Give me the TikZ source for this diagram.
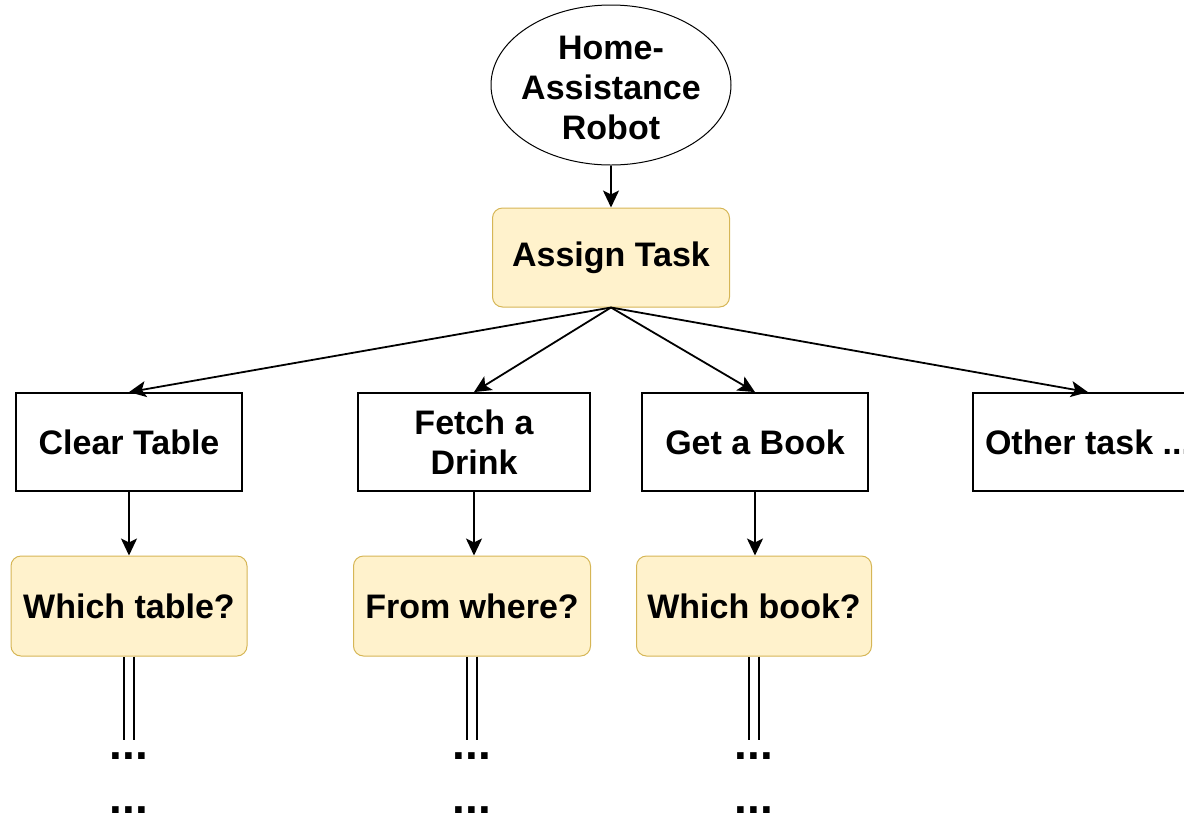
\documentclass[tikz,border=0pt]{standalone}
\usepackage{fontspec}
\setmainfont{Liberation Sans}
\usetikzlibrary{shapes.geometric,arrows.meta}
\definecolor{qfill}{HTML}{FFF2CC}
\definecolor{qborder}{HTML}{D6B656}

\begin{document}
\begin{tikzpicture}[x=1pt,y=-1pt,
    every node/.style={font=\fontsize{34}{40}\selectfont\bfseries, align=center},
    task/.style={draw, line width=1.8pt, minimum height=98pt},
    query/.style={draw=qborder, fill=qfill, rounded corners=10pt, line width=1pt, minimum height=100pt},
    arr/.style={-{Stealth[length=17pt,width=16pt,inset=4pt]}, line width=1.8pt},
    dbl/.style={double, double distance=8pt, line width=1.8pt, shorten >=12pt},
    more/.style={inner sep=0pt, anchor=base, font=\fontsize{46}{46}\selectfont\bfseries}]
    \useasboundingbox (0,0) rectangle (1184,815);
    \clip (0,0) rectangle (1184,815);
    \node[ellipse, draw, line width=1pt, minimum width=240pt, minimum height=160pt,
        label={[yshift=-3pt]center:{Home-\\Assistance\\Robot}}] (robot) at (611,85) {};
    \node[query, minimum width=237pt, minimum height=99pt] (assign) at (611,257.5) {Assign Task};
    \node[task, minimum width=226pt] (clear) at (129,442) {Clear Table};
    \node[task, minimum width=232pt] (fetch) at (474,442) {Fetch a\\Drink};
    \node[task, minimum width=226pt] (book) at (755,442) {Get a Book};
    \node[task, minimum width=230pt] (other) at (1088,442) {Other task ...};
    \node[query, minimum width=236pt] (wtable) at (129,606) {Which table?};
    \node[query, minimum width=237pt] (wwhere) at (472,606) {From where?};
    \node[query, minimum width=235pt] (wbook) at (754,606) {Which book?};
    \node[more] (tdots1) at (129,759) {...};
    \node[more] (tdots2) at (129,813) {...};
    \node[more] (wdots1) at (472,759) {...};
    \node[more] (wdots2) at (472,813) {...};
    \node[more] (bdots1) at (754,759) {...};
    \node[more] (bdots2) at (754,813) {...};
    \draw[arr] (robot) -- (assign);
    \draw[arr] (assign.south) -- (clear.north);
    \draw[arr] (assign.south) -- (fetch.north);
    \draw[arr] (assign.south) -- (book.north);
    \draw[arr] (assign.south) -- (other.north);
    \draw[arr] (clear) -- (clear |- wtable.north);
    \draw[arr] (fetch) -- (fetch |- wwhere.north);
    \draw[arr] (book) -- (book |- wbook.north);
    \draw[dbl] (wtable) -- (tdots1);
    \draw[dbl] (wwhere) -- (wdots1);
    \draw[dbl] (wbook) -- (bdots1);
\end{tikzpicture}
\end{document}
